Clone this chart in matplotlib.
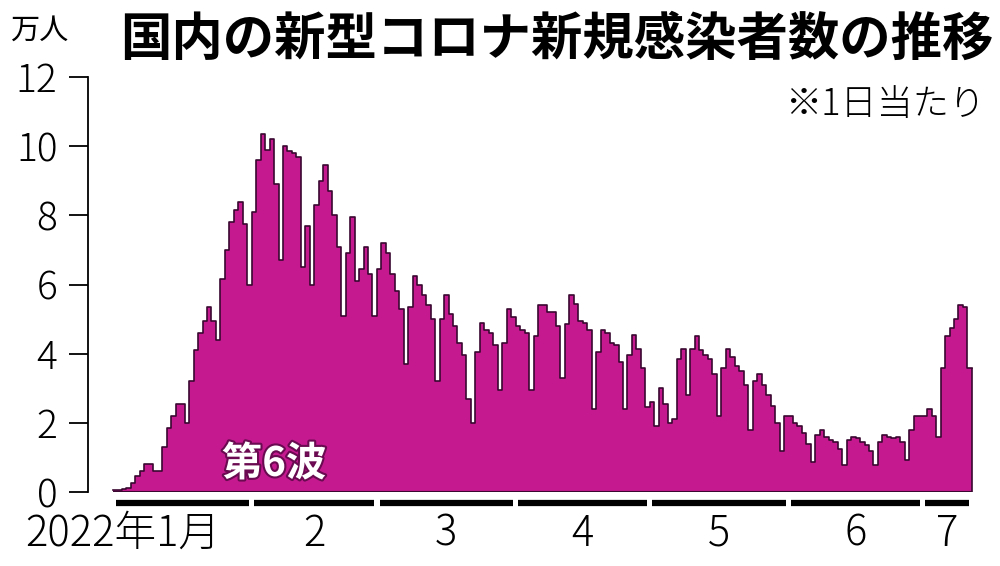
import numpy as np
import pandas as pd
import matplotlib
matplotlib.use("Agg")
import matplotlib.pyplot as plt
import matplotlib.patheffects as pe

plt.rcParams['font.family'] = ['Noto Sans CJK JP', 'DejaVu Sans']

# daily new cases (10,000 people)
jan = [0.05, 0.06, 0.08, 0.13, 0.26, 0.45, 0.62, 0.80, 0.80, 0.62,
       0.60, 1.3, 1.85, 2.2, 2.55, 2.55, 2.0, 3.2, 4.1, 4.6,
       4.95, 5.35, 4.95, 4.4, 6.15, 7.0, 7.8, 8.15, 8.4, 7.75,
       6.0]
feb = [8.1, 9.6, 10.35, 9.9, 10.2, 8.9, 6.7, 10.0, 9.85, 9.8,
       9.7, 6.5, 7.7, 6.0, 8.3, 9.0, 9.45, 8.7, 8.0, 7.1,
       5.1, 6.9, 7.95, 6.1, 6.45, 7.1, 6.3, 5.1]
mar = [6.45, 7.2, 6.9, 6.3, 5.8, 5.3, 3.7, 5.35, 6.25, 6.0,
       5.7, 5.4, 5.0, 3.2, 5.0, 5.7, 5.15, 4.8, 4.3, 3.95,
       2.7, 2.0, 4.05, 4.9, 4.7, 4.6, 4.25, 2.95, 4.3, 5.3,
       5.05]
apr = [4.8, 4.7, 4.6, 2.95, 4.5, 5.4, 5.4, 5.2, 5.2, 4.8,
       3.3, 4.85, 5.7, 5.45, 4.95, 4.9, 4.7, 2.4, 4.05, 4.7,
       4.6, 4.3, 4.25, 3.75, 2.4, 3.95, 4.55, 4.15, 3.6, 2.45]
may = [2.6, 1.9, 3.0, 2.55, 2.0, 2.1, 3.85, 4.15, 2.8, 4.15,
       4.5, 4.1, 3.95, 3.85, 3.4, 2.2, 3.6, 4.15, 3.9, 3.65,
       3.5, 3.1, 1.8, 3.2, 3.4, 3.1, 2.8, 2.5, 2.0, 1.2,
       2.2]
jun = [2.2, 2.0, 1.9, 1.7, 1.4, 0.87, 1.65, 1.8, 1.6, 1.5,
       1.45, 1.25, 0.78, 1.5, 1.6, 1.55, 1.45, 1.35, 1.2, 0.78,
       1.45, 1.65, 1.6, 1.55, 1.6, 1.45, 0.92, 1.8, 2.2, 2.2]
jul = [2.2, 2.4, 2.2, 1.6, 3.6, 4.5, 4.75, 5.0, 5.4, 5.35,
       3.6]

month_labels = ["2022年1月", "2", "3", "4", "5", "6", "7"]
y_ticks = [0, 2, 4, 6, 8, 10, 12]

values = jan + feb + mar + apr + may + jun + jul
dates = pd.date_range("2022-01-01", periods=len(values), freq="D")

fill_col = "#C4198F"
edge_col = "#3a0830"

fig = plt.figure(figsize=(10, 5.66), dpi=100)
ax = fig.add_axes([0.088, 0.1307, 0.887, 0.733])

ax.bar(dates, values, width=1.0, align="edge", color=fill_col, linewidth=0)
# dark outline along the tops of the bars
step_x = list(dates) + [dates[-1] + pd.Timedelta(days=1)]
step_y = values + [values[-1]]
ax.step(step_x, step_y, where="post", color=edge_col, lw=1.2)
ax.vlines(step_x[-1], 0, values[-1], color=edge_col, lw=1.2)
ax.hlines(0, dates[0], step_x[-1], color=edge_col, lw=1.5)

x0 = dates[0] - pd.Timedelta(days=5.6)
x1 = dates[0] + pd.Timedelta(days=192.7)
ax.set_xlim(x0, x1)
ax.set_ylim(0, 12)

for s in ["top", "right", "bottom"]:
    ax.spines[s].set_visible(False)
ax.spines["left"].set_linewidth(1.3)
ax.set_yticks(y_ticks)
ax.set_yticklabels([str(v) for v in y_ticks], fontsize=28, fontweight="light")
ax.tick_params(axis="y", length=14, width=1.3, pad=8)
ax.set_xticks([])

# month bars under the axis
starts = pd.date_range("2022-01-01", "2022-07-01", freq="MS")
for i, st in enumerate(starts):
    if i + 1 < len(starts):
        en = starts[i + 1]
    else:
        en = step_x[-1]
    a = st + pd.Timedelta(days=0.6)
    b = en - pd.Timedelta(days=0.6)
    ax.plot([a, b], [-0.32, -0.32], color="black", lw=4.5,
            solid_capstyle="butt", clip_on=False)
    mid = a + (b - a) / 2
    if i == 0:
        ax.text(b + pd.Timedelta(days=-6.5), -1.22, month_labels[i], fontsize=30,
                ha="right", va="center", fontweight="light")
    else:
        ax.text(mid, -1.22, month_labels[i], fontsize=30, ha="center",
                va="center", fontweight="light")

ax.text(dates[0] + pd.Timedelta(days=36), 0.8, "第6波", fontsize=29,
        fontweight="bold", color="white", ha="center", va="center",
        path_effects=[pe.withStroke(linewidth=3, foreground="#6a0a50")])

fig.text(0.12, 0.93, "国内の新型コロナ新規感染者数の推移", fontsize=37,
         fontweight="bold", va="center", ha="left")
fig.text(0.01, 0.945, "万人", fontsize=21, va="center", ha="left")
fig.text(0.985, 0.815, "※1日当たり", fontsize=26, va="center", ha="right",
         fontweight="light")

fig.savefig("out.png", dpi=100)
